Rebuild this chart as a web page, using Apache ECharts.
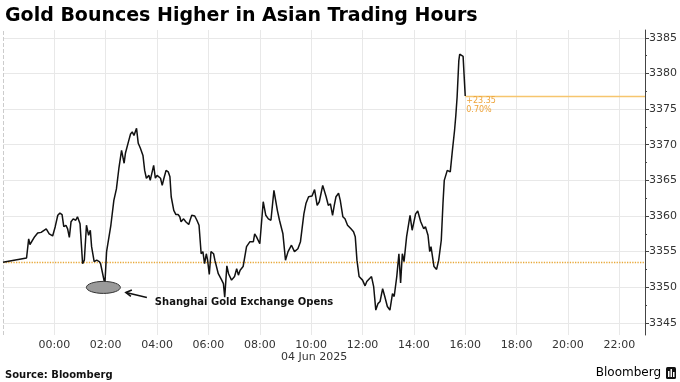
<!DOCTYPE html>
<html><head><meta charset="utf-8">
<script src="https://cdn.jsdelivr.net/npm/echarts@6/dist/echarts.min.js"></script>
<style>html,body{margin:0;padding:0;background:#fff}#c{width:680px;height:382px}</style>
</head><body><div id="c"></div>
<script>
const titleText = "Gold Bounces Higher in Asian Trading Hours";
const sourceText = "Source: Bloomberg";
const brandText = "Bloomberg";
const dateLabel = "04 Jun 2025";
const annotationText = "Shanghai Gold Exchange Opens";
const prevClose = 3353.5;
const sgeOpenMinute = 118;
const yTicks = [3345, 3350, 3355, 3360, 3365, 3370, 3375, 3380, 3385];
const yMinorTicks = [3342.5, 3347.5, 3352.5, 3357.5, 3362.5, 3367.5, 3372.5, 3377.5, 3382.5];
// minutes relative to 00:00 on 04 Jun 2025
const minutes = [
  -120, -65, -60, -57, -46, -39, -31, -19, -12, -4,
  2, 8, 13, 18, 22, 27, 31, 35, 39, 44,
  50, 54, 58, 60, 66, 70, 75, 80, 84, 87,
  93, 99, 105, 108, 118, 122, 126, 132, 139, 145,
  151, 157, 163, 166, 173, 178, 182, 186, 192, 196,
  201, 207, 211, 215, 221, 224, 228, 232, 236, 240,
  244, 248, 252, 256, 261, 266, 270, 273, 279, 284,
  289, 293, 296, 302, 307, 314, 317, 321, 328, 333,
  338, 343, 347, 351, 355, 358, 362, 366, 372, 375,
  383, 391, 395, 398, 403, 407, 414, 421, 426, 430,
  434, 441, 445, 449, 457, 465, 468, 472, 480, 488,
  494, 500, 506, 513, 521, 526, 534, 540, 546, 554,
  561, 569, 575, 583, 588, 594, 602, 608, 614, 619,
  627, 635, 640, 645, 650, 654, 658, 664, 668, 674,
  679, 685, 693, 699, 703, 707, 712, 720, 726, 730,
  736, 741, 746, 751, 756, 761, 767, 772, 778, 784,
  790, 794, 800, 805, 809, 813, 817, 823, 831, 836,
  844, 849, 856, 860, 863, 867, 873, 877, 880, 887,
  893, 898, 904, 908, 911, 918, 925, 930, 935, 938,
  941, 945, 947, 951, 955, 958, 960
];
const prices = [
  3353.5, 3354.1, 3356.8, 3356.0, 3357.1, 3357.6, 3357.7, 3358.2, 3357.5, 3357.2,
  3358.5, 3360.1, 3360.4, 3360.2, 3358.5, 3358.7, 3358.2, 3357.0, 3359.2, 3359.6,
  3359.4, 3359.9, 3360.0, 3358.9, 3353.3, 3353.8, 3358.7, 3357.3, 3358.0, 3355.7,
  3353.6, 3353.8, 3353.6, 3353.3, 3350.4, 3355.0, 3355.2, 3358.7, 3362.2, 3363.8,
  3366.8, 3369.2, 3367.4, 3368.8, 3370.4, 3371.5, 3371.8, 3371.3, 3372.3, 3370.2,
  3369.5, 3368.5, 3366.4, 3365.3, 3365.7, 3365.0, 3364.8, 3367.1, 3365.3, 3365.7,
  3365.5, 3365.3, 3364.3, 3365.3, 3366.4, 3366.2, 3365.5, 3362.7, 3360.8, 3360.2,
  3360.2, 3359.9, 3359.2, 3359.6, 3359.2, 3358.8, 3359.4, 3360.1, 3360.0, 3359.4,
  3358.7, 3354.7, 3355.0, 3353.3, 3354.7, 3353.8, 3351.8, 3355.0, 3354.7, 3353.8,
  3351.9, 3351.0, 3350.5, 3348.6, 3353.0, 3351.9, 3351.0, 3351.5, 3352.6, 3351.7,
  3352.4, 3352.9, 3353.1, 3355.7, 3356.4, 3356.4, 3357.5, 3357.1, 3356.1, 3362.0,
  3360.1, 3359.6, 3359.4, 3363.6, 3360.8, 3359.4, 3357.5, 3353.8, 3355.0, 3355.9,
  3355.0, 3355.4, 3356.4, 3360.3, 3361.8, 3362.7, 3362.8, 3363.7, 3361.5, 3362.0,
  3364.3, 3362.7, 3361.5, 3361.7, 3360.1, 3361.5, 3362.7, 3363.2, 3362.2, 3359.9,
  3359.6, 3358.7, 3358.2, 3357.8, 3357.1, 3353.8, 3351.5, 3351.0, 3350.2, 3350.8,
  3351.2, 3351.5, 3350.1, 3346.8, 3347.7, 3348.0, 3349.8, 3348.7, 3347.3, 3346.8,
  3349.1, 3348.7, 3351.5, 3354.7, 3350.6, 3354.7, 3353.6, 3357.1, 3360.1, 3358.0,
  3360.3, 3360.7, 3359.2, 3359.4, 3358.2, 3358.5, 3357.3, 3355.0, 3355.7, 3352.9,
  3352.5, 3353.8, 3356.6, 3361.8, 3365.0, 3366.4, 3366.2, 3369.2, 3372.0, 3374.1,
  3376.7, 3381.8, 3382.7, 3382.7, 3382.4, 3379.0, 3376.85
];

const FONT = 'DejaVu Sans';
const X_MIN = -2, X_MAX = 23, Y_MIN = 3343.3, Y_MAX = 3386.1;
const data = minutes.map((m, i) => [m / 60, prices[i]]);
const last = prices[prices.length - 1];
const lastX = minutes[minutes.length - 1] / 60;
const diff = last - prevClose;
const pct = diff / prevClose * 100;

const chart = echarts.init(document.getElementById('c'), null, {renderer: 'canvas'});
chart.setOption({
  animation: false,
  title: {text: titleText, left: 0, top: 2,
    textStyle: {fontFamily: FONT, fontSize: 19, fontWeight: 'bold', color: '#000'}},
  grid: {left: 0, right: 34, top: 30, bottom: 47, containLabel: false},
  xAxis: {type: 'value', min: X_MIN, max: X_MAX, interval: 2,
    axisLine: {show: false, onZero: false}, axisTick: {show: false},
    axisLabel: {formatter: v => (v < 0 || v > 22) ? '' : String(v).padStart(2, '0') + ':00',
      color: '#333', fontSize: 11, fontFamily: FONT, margin: 5},
    splitLine: {show: true, showMinLine: false, showMaxLine: false, lineStyle: {color: '#e8e8e8', width: 1}}},
  yAxis: [{type: 'value', position: 'right', min: Y_MIN, max: Y_MAX,
    axisLine: {show: true, onZero: false, lineStyle: {color: '#444', width: 1}},
    axisTick: {show: true, customValues: yTicks, length: 4, lineStyle: {color: '#444'}},
    axisLabel: {customValues: yTicks, formatter: v => String(v), color: '#333', fontSize: 11, fontFamily: FONT, margin: 4},
    splitLine: {show: true, lineStyle: {color: '#e8e8e8', width: 1}}},
   {type: 'value', position: 'right', min: Y_MIN, max: Y_MAX,
    axisLine: {show: false, onZero: false},
    axisTick: {show: true, customValues: yMinorTicks, length: 2, lineStyle: {color: '#444'}},
    axisLabel: {show: false}, splitLine: {show: false}}],
  series: [{type: 'line', data: data, symbol: 'none', showSymbol: false, z: 5,
    lineStyle: {color: '#111', width: 1.5}, silent: true,
    markLine: {silent: true, symbol: 'none', animation: false, label: {show: false}, z: 3,
      data: [
        {yAxis: prevClose, lineStyle: {color: '#e8a838', type: 'dotted', width: 1.3}},
        [{coord: [lastX, last], lineStyle: {color: '#f6c56e', type: 'solid', width: 1.3}}, {coord: [X_MAX, last]}],
        {xAxis: X_MIN, lineStyle: {color: '#cccccc', type: 'dashed', width: 1}}
      ]}}]
});

const sgeIdx = minutes.indexOf(sgeOpenMinute);
const pLow = chart.convertToPixel({gridIndex: 0}, [minutes[sgeIdx] / 60, prices[sgeIdx]]);
const pLast = chart.convertToPixel({gridIndex: 0}, [lastX, last]);
const pDate = chart.convertToPixel({gridIndex: 0}, [10, Y_MIN]);
const ox = pLow[0], oy = pLow[1];

chart.setOption({graphic: [
  {type: 'ellipse', shape: {cx: ox - 1.5, cy: oy + 3, rx: 17, ry: 6}, z: 10,
   style: {fill: '#9a9a9a', stroke: '#333', lineWidth: 1}},
  {type: 'polyline', shape: {points: [[ox + 42, oy + 13], [ox + 21, oy + 8]]}, z: 10,
   style: {stroke: '#111', lineWidth: 1.6, fill: null}},
  {type: 'polyline', shape: {points: [[ox + 27, oy + 5.5], [ox + 21, oy + 8], [ox + 26, oy + 12]]}, z: 10,
   style: {stroke: '#111', lineWidth: 1.6, fill: null}},
  {type: 'text', x: ox + 50, y: oy + 18, z: 10,
   style: {text: annotationText, font: 'bold 10px "DejaVu Sans"', fill: '#111', textVerticalAlign: 'middle'}},
  {type: 'text', x: pLast[0] + 1, y: pLast[1] + 5, z: 10,
   style: {text: (diff >= 0 ? '+' : '') + diff.toFixed(2), font: '8px "DejaVu Sans"', fill: '#eea43a', textVerticalAlign: 'middle'}},
  {type: 'text', x: pLast[0] + 1, y: pLast[1] + 14, z: 10,
   style: {text: pct.toFixed(2) + '%', font: '8px "DejaVu Sans"', fill: '#eea43a', textVerticalAlign: 'middle'}},
  {type: 'text', x: pDate[0] + 3, y: 357, z: 10,
   style: {text: dateLabel, font: '11px "DejaVu Sans"', fill: '#333', textAlign: 'center', textVerticalAlign: 'middle'}},
  {type: 'text', x: 5, y: 375, z: 10,
   style: {text: sourceText, font: 'bold 10px "DejaVu Sans"', fill: '#111', textVerticalAlign: 'middle'}},
  {type: 'text', x: 661, y: 373, z: 10,
   style: {text: brandText, font: '12px "DejaVu Sans"', fill: '#000', textAlign: 'right', textVerticalAlign: 'middle'}},
  {type: 'rect', shape: {x: 666, y: 367, width: 10, height: 12, r: 1.5}, z: 10, style: {fill: '#111'}},
  {type: 'rect', shape: {x: 668, y: 371, width: 1.5, height: 6}, z: 11, style: {fill: '#fff'}},
  {type: 'rect', shape: {x: 670.5, y: 369, width: 1.5, height: 8}, z: 11, style: {fill: '#fff'}},
  {type: 'rect', shape: {x: 673, y: 372, width: 1.5, height: 5}, z: 11, style: {fill: '#fff'}}
]});
</script>
</body></html>
